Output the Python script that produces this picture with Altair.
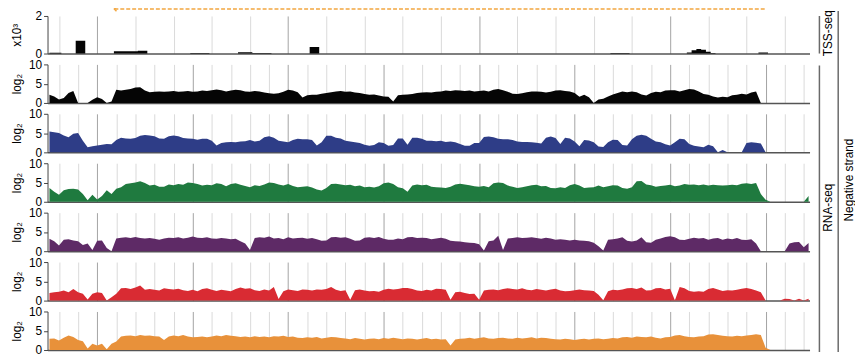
import altair as alt
import pandas as pd

# ---- genomic bins (kb) ----
BIN_START_KB = -2.5
BIN_STEP_KB = 0.25
N_BINS = 160
KB = [BIN_START_KB + BIN_STEP_KB * i for i in range(N_BINS)]
X_DOMAIN = [-2.6, 37.3]
GRID_KB = list(range(-2, 38))

ARROW_START_KB = [0.9]
ARROW_END_KB = [35.0]

TRACK_LABELS = ["TSS-seq", "RNA-seq", "Negative strand"]
Y_TITLES = ["x10³", "log₂"]

# ---- TSS-seq (x10^3) ----
TSS = [0.04, 0.04, 0.04, 0, 0, 0, 0.68, 0.68, 0, 0,
       0, 0, 0, 0, 0.12, 0.12, 0.12, 0.12, 0.12, 0.15,
       0.15, 0, 0, 0, 0, 0, 0, 0, 0, 0,
       0.03, 0.03, 0.03, 0.03, 0, 0, 0, 0, 0, 0,
       0.07, 0.07, 0.07, 0.03, 0.03, 0.03, 0.03, 0, 0, 0,
       0, 0, 0, 0, 0, 0.35, 0.35, 0, 0, 0,
       0, 0, 0, 0, 0, 0, 0, 0, 0, 0,
       0, 0, 0, 0, 0, 0, 0, 0, 0, 0,
       0, 0, 0, 0, 0, 0, 0, 0, 0, 0,
       0, 0, 0, 0, 0, 0, 0, 0, 0, 0,
       0, 0, 0, 0, 0, 0, 0, 0, 0, 0,
       0, 0, 0, 0, 0, 0, 0, 0, 0.03, 0.03,
       0.03, 0.03, 0, 0, 0, 0, 0, 0, 0, 0,
       0, 0, 0, 0, 0.06, 0.17, 0.24, 0.2, 0.1, 0.03,
       0, 0, 0, 0, 0, 0, 0, 0, 0, 0.06,
       0.06, 0, 0, 0, 0, 0, 0, 0, 0, 0]

# ---- RNA-seq tracks (log2) ----
BLACK = [2.1, 1.7, 0.9, 1.3, 2.6, 3.1, 0, 0, 0, 0.8,
         1.5, 1.0, 0, 0.4, 3.4, 3.2, 3.4, 3.6, 4.0, 4.1,
         3.2, 2.8, 2.9, 3.0, 2.9, 3.0, 3.1, 2.9, 3.0, 3.1,
         2.9, 3.0, 3.2, 3.1, 3.3, 3.5, 3.3, 3.0, 3.2, 3.4,
         3.3, 3.0, 2.9, 3.1, 3.0, 2.7, 2.5, 2.4, 2.5, 2.9,
         3.4, 3.2, 2.8, 1.4, 2.0, 2.1, 2.1, 2.4, 2.6, 2.8,
         3.0, 3.1, 2.9, 3.0, 2.7, 2.6, 2.3, 2.1, 2.2, 1.9,
         1.7, 1.6, 0.4, 2.0, 2.1, 2.2, 2.3, 2.6, 2.7, 2.8,
         2.7, 2.9, 3.0, 3.2, 3.1, 3.3, 3.2, 3.1, 3.2, 3.0,
         3.1, 3.2, 3.0, 3.4, 3.6, 3.3, 2.9, 2.4, 2.3, 2.5,
         2.8, 3.0, 3.0, 2.9, 2.7, 2.9, 3.2, 3.3, 3.1, 3.0,
         2.6, 1.6, 2.1, 1.5, 0, 0.9, 1.1, 1.7, 2.2, 2.6,
         3.0, 2.8, 3.0, 2.8, 2.2, 1.9, 2.6, 2.9, 2.8, 3.2,
         3.3, 3.3, 3.0, 3.3, 3.6, 3.5, 3.0, 2.3, 2.1, 1.7,
         1.4, 1.6, 1.5, 2.0, 2.1, 2.4, 2.2, 2.7, 3.0, 0,
         0, 0, 0, 0, 0, 0, 0, 0, 0, 0]

BLUE = [5.4, 5.2, 5.0, 4.4, 3.9, 4.8, 5.0, 3.0, 1.3, 1.6,
        1.8, 2.0, 2.2, 2.1, 3.2, 3.8, 3.6, 3.5, 3.7, 4.3,
        4.5, 4.4, 4.2, 3.6, 3.5, 4.2, 4.4, 4.2, 3.7, 3.6,
        3.5, 3.3, 3.5, 3.5, 3.0, 1.8, 2.4, 2.6, 2.7, 2.6,
        2.8, 2.9, 3.2, 2.8, 3.0, 3.9, 4.2, 3.8, 3.0, 2.8,
        2.6, 3.2, 3.5, 3.4, 3.4, 3.2, 1.8, 2.6, 4.3, 4.3,
        3.8, 3.6, 3.0, 2.8, 2.6, 2.4, 2.0, 1.7, 1.9, 2.6,
        2.4, 1.7, 1.9, 3.6, 3.6, 2.0, 3.8, 3.8, 3.5, 3.0,
        3.0, 2.9, 3.0, 2.7, 2.8, 2.6, 2.2, 1.7, 1.7, 2.4,
        2.4, 4.0, 4.1, 3.9, 3.5, 3.4, 3.4, 3.2, 2.8, 2.7,
        2.7, 2.6, 2.5, 2.3, 3.8, 4.1, 3.7, 2.2, 3.8, 3.6,
        2.8, 1.6, 3.2, 3.1, 2.6, 1.5, 1.4, 2.6, 3.3, 3.2,
        1.9, 1.8, 3.4, 4.3, 4.6, 4.3, 3.5, 2.8, 2.6, 2.1,
        1.8, 2.6, 3.5, 3.4, 2.2, 1.7, 1.5, 1.3, 2.0, 1.6,
        0, 0.6, 0, 0, 0, 0, 2.4, 2.6, 2.5, 2.3,
        0, 0, 0, 0, 0, 0, 0, 0, 0, 0]

GREEN = [3.6, 2.6, 1.8, 3.0, 3.3, 3.4, 3.2, 2.0, 0.4, 1.8,
         0.6, 1.5, 3.0, 2.0, 3.4, 3.8, 4.6, 4.8, 5.0, 5.3,
         4.9, 4.2, 4.4, 3.9, 3.9, 4.5, 4.3, 4.6, 4.4, 5.0,
         4.9, 4.6, 4.2, 4.4, 4.3, 4.8, 4.6, 4.0, 4.6, 4.8,
         4.4, 4.1, 3.8, 4.3, 4.1, 4.5, 5.0, 4.9, 4.5, 4.2,
         4.6, 4.1, 3.8, 3.9, 4.0, 3.7, 3.2, 2.9, 3.6, 4.6,
         4.7, 4.5, 4.3, 4.4, 4.0, 4.2, 3.8, 3.9, 3.7, 4.0,
         4.8, 5.0, 4.6, 3.8, 3.5, 2.6, 4.2, 4.5, 4.3, 4.4,
         3.9, 3.8, 3.7, 3.6, 3.9, 4.5, 4.7, 4.5, 4.3, 4.0,
         3.9, 4.1, 3.8, 4.8, 5.0, 4.9, 4.2, 3.9, 3.6, 3.8,
         4.0, 4.3, 4.4, 4.0, 4.1, 3.6, 3.5, 3.8, 3.6, 4.3,
         4.6, 4.2, 3.6, 3.7, 3.8, 4.2, 3.8, 4.0, 4.3, 4.2,
         3.6, 3.4, 3.8, 5.3, 5.4, 4.5, 4.3, 3.9, 4.1, 4.2,
         4.4, 4.0, 4.2, 4.6, 4.4, 4.5, 4.3, 4.5, 4.2, 4.4,
         4.3, 4.2, 4.3, 4.4, 4.3, 4.7, 4.8, 4.6, 4.9, 2.0,
         0.5, 0, 0, 0, 0, 0, 0, 0, 0, 1.5]

PURPLE = [3.2, 2.6, 1.5, 3.0, 3.1, 2.8, 2.6, 1.6, 2.0, 0.3,
          2.7, 2.8, 0.8, 0, 3.3, 3.5, 3.6, 3.4, 3.7, 3.4,
          3.3, 3.4, 3.2, 3.0, 3.3, 3.5, 3.4, 3.6, 3.3, 3.5,
          3.8, 3.5, 3.4, 3.6, 3.3, 3.2, 3.4, 3.3, 3.1, 3.2,
          2.6, 2.0, 0.3, 3.4, 3.6, 3.5, 3.8, 3.3, 3.4, 3.1,
          3.6, 3.3, 3.4, 3.5, 3.2, 3.4, 3.1, 2.7, 2.8, 3.6,
          3.7, 3.5, 3.6, 3.2, 2.7, 2.8, 3.5, 3.6, 3.4, 3.7,
          3.2, 3.0, 3.0, 3.3, 3.1, 3.6, 3.7, 3.4, 3.5, 3.4,
          3.1, 3.3, 3.5, 3.2, 2.7, 2.6, 2.5, 2.3, 2.2, 2.1,
          1.8, 0.2, 2.6, 2.8, 4.0, 0.3, 3.3, 3.4, 3.6, 3.4,
          3.5, 3.6, 3.4, 3.2, 3.5, 3.3, 3.0, 3.1, 3.0, 2.8,
          3.0, 2.8, 2.7, 2.6, 2.2, 1.3, 0.2, 3.0, 3.1, 3.3,
          3.6, 2.7, 2.5, 2.8, 3.6, 2.3, 2.2, 3.0, 3.3, 3.7,
          3.9, 3.6, 3.0, 2.9, 3.2, 3.5, 3.3, 3.4, 3.0, 3.3,
          3.4, 3.0, 3.3, 3.1, 3.4, 3.0, 2.9, 3.1, 2.0, 0,
          0, 0, 0, 0, 0, 2.0, 2.3, 2.4, 1.0, 2.1]

RED = [2.0, 2.2, 2.3, 2.6, 2.2, 3.0, 2.2, 1.8, 0.3, 1.8,
       2.2, 2.0, 0, 0.9, 1.8, 3.2, 3.3, 3.0, 3.4, 3.9,
       2.8, 3.0, 2.8, 2.6, 3.2, 3.0, 2.9, 3.1, 2.7, 2.5,
       2.8, 2.4, 3.0, 3.2, 2.8, 2.5, 2.8, 2.6, 2.4, 3.0,
       3.4, 3.1, 3.2, 2.7, 2.5, 2.9, 2.6, 3.5, 0.4, 2.4,
       2.9, 2.7, 2.5, 2.9, 2.8, 2.6, 2.9, 2.8, 3.0, 3.5,
       2.8, 2.5, 2.7, 0.2, 2.7, 2.9, 2.6, 2.4, 2.5, 2.3,
       2.8, 3.1, 2.9, 3.0, 3.3, 3.3, 3.0, 2.6, 2.5, 2.8,
       2.6, 3.1, 3.0, 2.8, 0.2, 2.2, 2.3, 2.0, 1.7, 1.8,
       0.2, 2.6, 2.8, 2.9, 2.7, 3.0, 3.2, 3.0, 2.9, 3.2,
       2.8, 2.7, 3.0, 2.8, 2.6, 2.9, 3.1, 2.6, 2.4, 2.5,
       2.7, 2.9, 2.7, 2.6, 2.5, 1.5, 0.1, 2.4, 2.8, 2.7,
       2.9, 3.2, 3.3, 3.0, 3.4, 2.6, 2.7, 3.2, 3.3, 2.9,
       3.1, 0.1, 3.5, 3.2, 2.5, 2.3, 2.4, 2.3, 3.0, 3.3,
       2.9, 2.5, 2.7, 2.6, 2.8, 3.1, 3.3, 3.0, 2.6, 2.2,
       0, 0, 0, 0, 0.5, 0.4, 0, 0.5, 0, 0.5]

ORANGE = [2.9, 3.0, 2.5, 3.2, 3.8, 3.4, 2.6, 2.3, 0.4, 1.6,
          1.2, 1.6, 0.2, 1.6, 2.2, 3.5, 3.7, 3.8, 3.6, 3.9,
          3.7, 3.8, 3.6, 3.5, 2.6, 3.5, 3.8, 3.6, 3.9, 3.5,
          3.3, 3.4, 3.5, 3.3, 3.5, 3.8, 3.6, 3.9, 3.7, 3.6,
          3.4, 3.5, 3.3, 3.6, 3.4, 3.5, 3.3, 3.6, 3.5, 3.7,
          3.4, 3.5, 3.2, 3.1, 3.3, 3.2, 3.4, 3.0, 3.2, 3.4,
          3.3, 3.1, 3.0, 2.8, 3.1, 2.9, 2.7, 2.9, 3.0, 2.8,
          3.1, 2.9, 3.2, 3.0, 2.8, 3.0, 2.9, 2.7, 2.9, 3.1,
          2.8, 2.9, 2.7, 2.8, 1.2, 2.7, 2.9, 3.0, 3.2, 2.9,
          3.1, 3.3, 3.0, 2.9, 3.1, 3.2, 3.0, 2.9, 3.2, 3.0,
          3.1, 3.3, 3.0, 3.2, 3.1, 2.9, 2.8, 2.7, 2.9, 2.8,
          2.6, 2.8, 2.9, 2.7, 2.9, 3.0, 2.8, 2.9, 3.1, 3.0,
          3.3, 3.4, 3.2, 3.5, 3.4, 3.3, 3.5, 3.2, 3.0, 3.3,
          3.4, 3.8, 3.9, 3.6, 3.4, 3.3, 3.5, 3.6, 4.0, 4.1,
          3.9, 3.7, 3.6, 3.5, 3.7, 3.6, 3.8, 3.9, 4.1, 3.9,
          0.6, 0, 0, 0, 0, 0, 0, 0, 0, 0]

RNA_TRACKS = [BLACK, BLUE, GREEN, PURPLE, RED, ORANGE]
RNA_COLORS = ["#050505", "#2e3d87", "#1f7a3f", "#5e2a66", "#d92b33", "#e8913a"]
TSS_COLOR = "#050505"

FONT = "Liberation Sans"
W = 771

xscale = alt.Scale(domain=X_DOMAIN, nice=False, zero=False)
grid_color = {"condition": {"test": "datum.value % 5 === 0", "value": "#a3a3a3"},
              "value": "#dadada"}
xaxis = alt.Axis(values=GRID_KB, grid=True, gridColor=grid_color, gridWidth=1,
                 labels=False, ticks=False, domain=True, domainColor="#555555",
                 domainWidth=1.5, title=None)


def yaxis(ticks, title):
    return alt.Axis(values=ticks, title=title, grid=False, tickSize=4, format="d",
                    tickColor="#444444", domainColor="#444444", domainWidth=1,
                    labelFontSize=12, labelPadding=2, labelColor="#000000",
                    titleFontSize=12, titleFontWeight="normal", titleColor="#000000",
                    titleX=-31, titleAngle=270, titleAlign="center",
                    titleBaseline="middle")


def track(values, color, ymax, ticks, title, interp, height):
    df = pd.DataFrame({"kb": KB, "v": values})
    return alt.Chart(df).mark_area(color=color, interpolate=interp).encode(
        x=alt.X("kb:Q", scale=xscale, axis=xaxis),
        y=alt.Y("v:Q", scale=alt.Scale(domain=[0, ymax], nice=False, zero=True),
                axis=yaxis(ticks, title)),
    ).properties(width=W, height=height)


one = alt.Data(values=[{"k": 0}])
BR = "#6a6a6a"

tss_area = track(TSS, TSS_COLOR, 2, [0, 1, 2], Y_TITLES[0], "step", 38)

tss_bracket = alt.Chart(one).mark_rule(color=BR, strokeWidth=1.5).encode(
    x=alt.value(781), y=alt.value(0), y2=alt.value(38))
rna_bracket = alt.Chart(one).mark_rule(color=BR, strokeWidth=1.5).encode(
    x=alt.value(781), y=alt.value(50), y2=alt.value(340))
strand_line = alt.Chart(one).mark_rule(color=BR, strokeWidth=1.5).encode(
    x=alt.value(800), y=alt.value(-5), y2=alt.value(340))

txt = dict(angle=270, fontSize=12, font=FONT, align="center", baseline="middle",
           color="#000000")
tss_label = alt.Chart(one).mark_text(**txt).encode(
    x=alt.value(790), y=alt.value(17.5), text=alt.value(TRACK_LABELS[0]))
rna_label = alt.Chart(one).mark_text(**txt).encode(
    x=alt.value(790), y=alt.value(194), text=alt.value(TRACK_LABELS[1]))
strand_label = alt.Chart(one).mark_text(**txt).encode(
    x=alt.value(811), y=alt.value(166), text=alt.value(TRACK_LABELS[2]))

arrow_df = pd.DataFrame({"a0": ARROW_START_KB, "a1": ARROW_END_KB})
arrow_line = alt.Chart(arrow_df).mark_rule(
    color="#f2a640", strokeWidth=1.5, strokeDash=[4, 2]).encode(
    x=alt.X("a0:Q", scale=xscale), x2="a1:Q", y=alt.value(-7))
arrow_head = alt.Chart(arrow_df).mark_point(
    shape="M1,-1L0,0L1,1", filled=False, size=18, color="#f2a640",
    strokeWidth=1.5, opacity=1).encode(
    x=alt.X("a0:Q", scale=xscale), y=alt.value(-7))

row1 = alt.layer(tss_area, tss_bracket, rna_bracket, strand_line,
                 tss_label, rna_label, strand_label, arrow_line, arrow_head)

rows = [row1]
for vals, col in zip(RNA_TRACKS, RNA_COLORS):
    rows.append(track(vals, col, 10, [0, 5, 10], Y_TITLES[1], "linear", 39))

chart = alt.vconcat(*rows, spacing=11, bounds="flush").properties(
    padding={"left": 3, "top": -7, "right": 0, "bottom": 0}
).configure_view(stroke=None).configure_axis(
    labelFont=FONT, titleFont=FONT
).configure_text(font=FONT)

chart.save("out.html", embed_options={"renderer": "svg", "actions": False})
